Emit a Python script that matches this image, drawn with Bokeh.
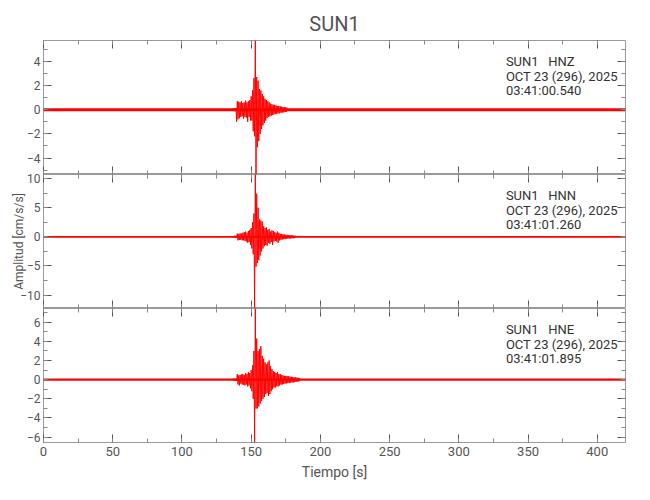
from bokeh.plotting import figure
from bokeh.layouts import column
from bokeh.models import (Range1d, LinearAxis, SingleIntervalTicker, Label,
                          CustomJSTickFormatter, CustomLabelingPolicy)
from bokeh.embed import file_html
from bokeh.resources import INLINE

# ---------------- data ----------------
station = "SUN1"
channels = ["HNZ", "HNN", "HNE"]
date_text = "OCT 23 (296), 2025"
start_times = ["03:41:00.540", "03:41:01.260", "03:41:01.895"]
x_label = "Tiempo [s]"
y_label = "Amplitud [cm/s/s]"

rec_start = 0.0      # s
rec_end = 420.4      # s
evt_t0 = 137.0       # first sample of the event window (s)
evt_dt = 0.5         # spacing of the read peaks (s)

noise_levels = [0.12, 0.15, 0.12]   # background noise half-width per channel

hnz_evt = [
    0.12, -0.12, 0.14, -0.13, 0.13,
    -1.00, 0.70, -0.80, 0.65, -0.70, 0.60,
    -0.60, 0.70, -0.55, 0.55, -0.75, 0.60,
    -0.60, 0.75, -0.65, 0.60, -1.00, 0.70,
    -0.60, 0.80, -0.90, 1.10, -0.90, 1.60,
    -1.80, 2.60, -2.20, 5.72, -5.36, 2.70,
    -3.10, 2.40, -2.60, 1.70, -2.00, 1.60,
    -1.60, 1.30, -1.30, 1.10, -1.10, 0.90,
    -0.90, 0.80, -0.70, 0.70, -0.60, 0.60,
    -0.55, 0.50, -0.50, 0.45, -0.45, 0.40,
    -0.40, 0.40, -0.35, 0.35, -0.35, 0.30,
    -0.30, 0.30, -0.30, 0.28, -0.25, 0.25,
    -0.25, 0.22, -0.22, 0.20, -0.20, 0.20,
    -0.18, 0.18,
]

hnn_evt = [
    0.15, -0.15, 0.18, -0.15, 0.20, -0.20,
    0.55, -0.60, 0.50, -0.55, 0.60, -0.50,
    0.55, -0.60, 0.70, -0.60, 0.80, -0.70,
    0.90, -0.80, 0.70, -1.00, 1.00, -0.90,
    1.20, -1.40, 1.50, -2.00, 2.50, -3.00,
    4.00, -12.30, 10.70, -5.10, 7.40, -4.50,
    5.00, -4.00, 3.00, -3.20, 2.80, -2.50,
    2.60, -2.00, 1.80, -1.60, 1.50, -1.40,
    1.60, -1.50, 1.20, -1.00, 1.30, -1.20,
    0.90, -0.90, 1.10, -1.40, 1.00, -0.80,
    0.80, -0.70, 0.70, -0.80, 0.90, -1.00,
    0.70, -0.60, 0.50, -0.50, 0.50, -0.45,
    0.45, -0.40, 0.40, -0.40, 0.35, -0.35,
    0.35, -0.30, 0.30, -0.30, 0.30, -0.28,
    0.28, -0.25, 0.25, -0.25, 0.22, -0.20,
    0.20,
]

hne_evt = [
    0.12, -0.10, 0.12, -0.12, 0.10, -0.12,
    0.60, -0.50, 0.45, -0.60, 0.50, -0.40,
    0.55, -0.50, 0.60, -0.55, 0.50, -0.60,
    0.70, -0.50, 0.60, -0.70, 0.80, -0.60,
    0.70, -0.90, 1.00, -1.20, 1.50, -2.00,
    3.00, -6.56, 7.44, -3.00, 4.30, -3.00,
    3.00, -2.80, 3.20, -2.50, 3.50, -2.20,
    2.50, -2.00, 2.20, -1.80, 1.80, -1.50,
    1.60, -1.40, 1.80, -1.70, 2.00, -1.50,
    1.40, -1.20, 1.10, -1.00, 0.90, -0.80,
    0.80, -0.80, 0.70, -0.70, 0.80, -0.70,
    0.60, -0.60, 0.60, -0.50, 0.50, -0.50,
    0.45, -0.45, 0.40, -0.40, 0.40, -0.38,
    0.38, -0.35, 0.35, -0.35, 0.32, -0.30,
    0.30, -0.30, 0.28, -0.28, 0.25, -0.25,
    0.25, -0.22, 0.22, -0.20, 0.20, -0.18,
    0.18,
]

events = [hnz_evt, hnn_evt, hne_evt]
y_tick_steps = [2, 5, 2]
x_tick_step = 50

# ---------------- style ----------------
FONT = "Roboto"
TXT = "#555555"
RED = "#ff0000"
FRAME_W = 582
FRAME_H = 134
LEFT = 43
RIGHT = 15
OVERLAP = 7          # px each lower panel's canvas reaches up over the one above
NBSP = "\u00a0"

fmt_code = "return tick < 0 ? '\u2212' + Math.abs(tick) : String(tick);"

xr = Range1d(rec_start, rec_end)


def style_axis(ax, show_labels, step, size="13px"):
    ax.ticker = SingleIntervalTicker(interval=step, num_minor_ticks=2)
    ax.axis_line_color = None
    ax.major_tick_in = 8
    ax.major_tick_out = 0
    ax.minor_tick_in = 4
    ax.minor_tick_out = 0
    ax.major_tick_line_color = "#555555"
    ax.minor_tick_line_color = "#888888"
    ax.major_tick_line_width = 1
    if show_labels:
        ax.major_label_text_font = FONT
        ax.major_label_text_font_size = size
        ax.major_label_text_color = TXT
        ax.major_label_standoff = 3
        ax.formatter = CustomJSTickFormatter(code=fmt_code)
    else:
        # tick marks only: labels take no room and are not drawn
        ax.major_label_text_font_size = "0px"
        ax.major_label_standoff = 0
        ax.major_label_policy = CustomLabelingPolicy(code="return [];")


figs = []
for i, (ch, evt) in enumerate(zip(channels, events)):
    ymin, ymax = min(evt), max(evt)
    top = i == 0
    bottom = i == len(channels) - 1
    extra = {} if top else {"styles": {"margin-top": f"-{OVERLAP}px"}}
    p = figure(frame_width=FRAME_W, frame_height=FRAME_H, x_range=xr,
               y_range=Range1d(ymin, ymax), output_backend="svg",
               toolbar_location=None, min_border_left=LEFT,
               min_border_right=RIGHT,
               min_border_top=40 if top else OVERLAP,
               min_border_bottom=0, **extra)
    p.xgrid.visible = False
    p.ygrid.visible = False
    p.outline_line_color = "#9a9a9a"
    p.outline_line_width = 1
    p.background_fill_color = "white"
    p.border_fill_color = "white"
    if not top:
        p.border_fill_alpha = 0

    ax_bottom = p.xaxis[0]
    ax_left = p.yaxis[0]
    style_axis(ax_bottom, bottom, x_tick_step, "13px")
    style_axis(ax_left, True, y_tick_steps[i], "12px")
    ax_top = LinearAxis()
    style_axis(ax_top, False, x_tick_step)
    p.add_layout(ax_top, "above")
    ax_right = LinearAxis()
    style_axis(ax_right, False, y_tick_steps[i])
    p.add_layout(ax_right, "right")

    if bottom:
        ax_bottom.axis_label = x_label
        ax_bottom.axis_label_text_font = FONT
        ax_bottom.axis_label_text_font_size = "14px"
        ax_bottom.axis_label_text_font_style = "normal"
        ax_bottom.axis_label_text_color = TXT
        ax_bottom.axis_label_standoff = 5
        ax_bottom.major_label_standoff = 4

    if i == 1:
        ax_left.axis_label = y_label
        ax_left.axis_label_text_font = FONT
        ax_left.axis_label_text_font_size = "12px"
        ax_left.axis_label_text_font_style = "normal"
        ax_left.axis_label_text_color = TXT
        ax_left.axis_label_standoff = -9

    if top:
        p.title.text = station
        p.title.align = "center"
        p.title.text_font = FONT
        p.title.text_font_size = "20px"
        p.title.text_font_style = "normal"
        p.title.text_color = TXT

    # background noise over the whole record, then the event window
    n = noise_levels[i]
    p.varea(x=[rec_start, rec_end], y1=[-n, -n], y2=[n, n], color=RED)
    t = [evt_t0 + k * evt_dt for k in range(len(evt))]
    p.line(t, evt, line_color=RED, line_width=1)

    # header text (top-right of each panel)
    yspan = ymax - ymin
    lines = [f"{station}{NBSP * 3}{ch}", date_text, start_times[i]]
    for k, txt in enumerate(lines):
        off_px = 21 + 14.5 * k
        p.add_layout(Label(x=334, y=ymax - off_px * yspan / FRAME_H, text=txt,
                           text_font=FONT, text_font_size="13px",
                           text_color="#333333", text_baseline="middle",
                           text_align="left"))
    figs.append(p)

layout = column(*figs, spacing=0)
open("out.html", "w").write(file_html(layout, INLINE))
